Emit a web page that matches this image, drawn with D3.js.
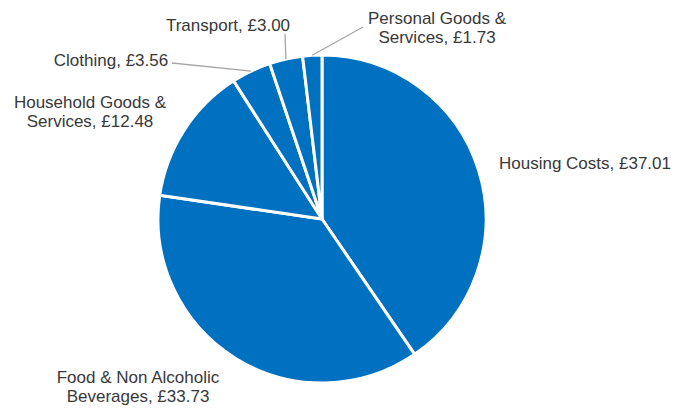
<!DOCTYPE html>
<html>
<head>
<meta charset="utf-8">
<script src="https://cdn.jsdelivr.net/npm/d3@7"></script>
<style>
  body { margin: 0; background: #fff; }
  .lbl { font-family: "Liberation Sans", Arial, sans-serif; font-size: 17px; fill: #383838; }
</style>
</head>
<body>
<div id="chart"></div>
<script>
// data
var categories = ["Housing Costs", "Food & Non Alcoholic Beverages", "Household Goods & Services",
                  "Clothing", "Transport", "Personal Goods & Services"];
var values = [37.01, 33.73, 12.48, 3.56, 3.00, 1.73];
// label text lines as shown in the picture
var labelLines = [
    ["Housing Costs, £37.01"],
    ["Food & Non Alcoholic", "Beverages, £33.73"],
    ["Household Goods &", "Services, £12.48"],
    ["Clothing, £3.56"],
    ["Transport, £3.00"],
    ["Personal Goods &", "Services, £1.73"]
];

// layout (label anchor = centre of first baseline, leader end point)
var labelLayout = [
    { x: 585, y: 169, lead: null },
    { x: 138, y: 383, lead: null },
    { x: 90, y: 108, lead: null },
    { x: 111, y: 66, lead: [172, 63] },
    { x: 228, y: 31, lead: [285, 34] },
    { x: 437, y: 24, lead: [363, 27] }
];

var svgWidth = 687, svgHeight = 408;
var cx = 322, cy = 219, radius = 164;

var svg = d3.select("#chart")
    .append("svg")
    .attr("width", svgWidth)
    .attr("height", svgHeight);

var pieGroup = svg.append("g")
    .attr("transform", `translate(${cx}, ${cy})`);

var pie = d3.pie().sort(null).value(d => d);
var arcs = pie(values);

var arc = d3.arc().innerRadius(0).outerRadius(radius);
var edgeArc = d3.arc().innerRadius(radius).outerRadius(radius);

pieGroup.selectAll("path")
    .data(arcs)
    .enter()
    .append("path")
    .attr("d", arc)
    .attr("fill", "#0070C0")
    .attr("stroke", "#ffffff")
    .attr("stroke-width", 3)
    .attr("stroke-linejoin", "round");

// leader lines
arcs.forEach(function(a, i) {
    var lay = labelLayout[i];
    if (!lay.lead) return;
    var p = edgeArc.centroid(a);
    svg.append("line")
        .attr("x1", cx + p[0])
        .attr("y1", cy + p[1])
        .attr("x2", lay.lead[0])
        .attr("y2", lay.lead[1])
        .attr("stroke", "#a6a6a6")
        .attr("stroke-width", 1.3);
});

// labels
labelLines.forEach(function(lines, i) {
    var lay = labelLayout[i];
    var t = svg.append("text")
        .attr("class", "lbl")
        .attr("text-anchor", "middle")
        .attr("x", lay.x)
        .attr("y", lay.y);
    lines.forEach(function(line, j) {
        t.append("tspan")
            .attr("x", lay.x)
            .attr("dy", j === 0 ? 0 : 19)
            .text(line);
    });
});
</script>
</body>
</html>
